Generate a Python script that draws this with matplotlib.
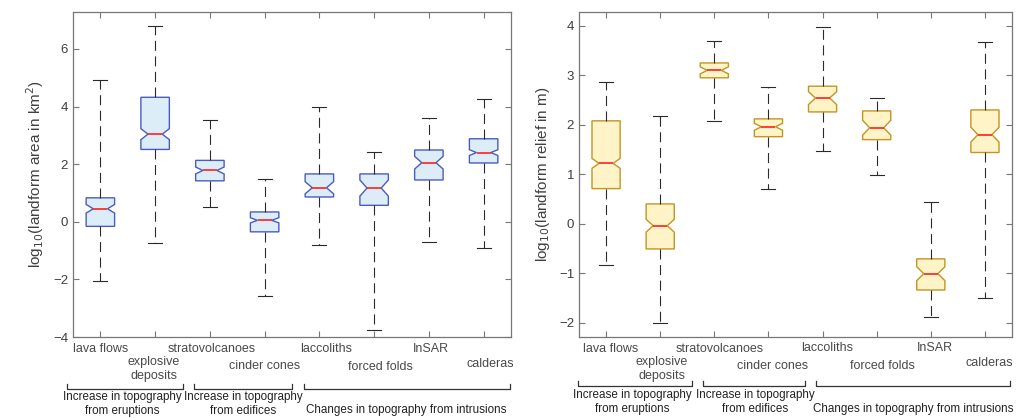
import matplotlib
matplotlib.use("Agg")
import matplotlib.pyplot as plt
from matplotlib.transforms import blended_transform_factory

plt.rcParams['font.family'] = ['Liberation Sans', 'DejaVu Sans']

categories = ["lava flows", "explosive\ndeposits", "stratovolcanoes", "cinder cones",
              "laccoliths", "forced folds", "InSAR", "calderas"]
groups = ["Increase in topography\nfrom eruptions", "Increase in topography\nfrom edifices",
          "Changes in topography from intrusions"]

# log10 landform area (km^2)
area_whislo = [-2.07, -0.75, 0.50, -2.56, -0.80, -3.76, -0.71, -0.91]
area_q1     = [-0.16, 2.51, 1.42, -0.35, 0.86, 0.57, 1.45, 2.04]
area_med    = [0.45, 3.04, 1.78, 0.05, 1.18, 1.17, 2.05, 2.40]
area_q3     = [0.83, 4.32, 2.13, 0.34, 1.66, 1.66, 2.49, 2.88]
area_whishi = [4.93, 6.80, 3.53, 1.49, 4.00, 2.41, 3.59, 4.27]
area_notch  = [0.15, 0.19, 0.12, 0.09, 0.21, 0.28, 0.22, 0.10]

# log10 landform relief (m)
rel_whislo = [-0.83, -2.00, 2.08, 0.70, 1.47, 0.99, -1.89, -1.50]
rel_q1     = [0.71, -0.51, 2.95, 1.76, 2.26, 1.70, -1.34, 1.44]
rel_med    = [1.22, -0.04, 3.10, 1.96, 2.54, 1.94, -1.01, 1.80]
rel_q3     = [2.08, 0.40, 3.25, 2.12, 2.78, 2.28, -0.71, 2.30]
rel_whishi = [2.86, 2.17, 3.70, 2.77, 3.98, 2.54, 0.44, 3.67]
rel_notch  = [0.10, 0.13, 0.07, 0.07, 0.13, 0.15, 0.14, 0.15]

W, H = 1021, 418
fig = plt.figure(figsize=(W / 100, H / 100), dpi=100)

def px_axes(x0, x1, y0, y1):
    return fig.add_axes([x0 / W, 1 - y1 / H, (x1 - x0) / W, (y1 - y0) / H])

axL = px_axes(73, 511, 12, 337)
axR = px_axes(579, 1012, 12, 337)

spine_col = '#777777'
tick_col = '#3f3f3f'


def draw(ax, lo, q1, med, q3, hi, notch, fill, edge, ylim, yticks, ylabel,
         label_y, label_dx, bracket_y, group_spans, group_text_y):
    stats = []
    for i in range(len(categories)):
        stats.append(dict(whislo=lo[i], q1=q1[i], med=med[i], q3=q3[i], whishi=hi[i],
                          cilo=med[i] - notch[i], cihi=med[i] + notch[i], fliers=[]))
    pos = list(range(1, len(categories) + 1))
    ax.bxp(stats, positions=pos, widths=0.52, shownotches=True, patch_artist=True,
           showfliers=False,
           boxprops=dict(facecolor=fill, edgecolor=edge, linewidth=1.0),
           medianprops=dict(color='#ff2020', linewidth=1.2),
           whiskerprops=dict(color='#2a2a2a', linewidth=0.8, linestyle=(0, (9, 5))),
           capprops=dict(color='#2a2a2a', linewidth=0.8),
           capwidths=0.26)
    ax.set_xlim(0.5, 8.5)
    ax.set_ylim(*ylim)
    ax.set_yticks(yticks)
    ax.set_xticks(pos)
    ax.set_xticklabels([])
    ax.tick_params(direction='in', top=True, right=True, length=4, width=0.8,
                   colors=spine_col, labelcolor=tick_col, labelsize=9.5)
    for s in ax.spines.values():
        s.set_color(spine_col)
        s.set_linewidth(0.9)
    ax.set_ylabel(ylabel, fontsize=11, color=tick_col, labelpad=5)

    # category labels (staggered)
    tr = blended_transform_factory(ax.transData, fig.transFigure)
    for i, c in enumerate(categories):
        ax.text(pos[i] + label_dx[i], 1 - label_y[i] / H, c, transform=tr, ha='center',
                va='center', fontsize=9, color='#4a4a4a', clip_on=False, linespacing=1.3)
    # group brackets
    trf = fig.transFigure
    for (x0, x1), (cx, t), g in zip(group_spans, group_text_y, groups):
        yb = 1 - bracket_y / H
        yt = 1 - (bracket_y - 5) / H
        fig.add_artist(plt.Line2D([x0 / W, x0 / W, x1 / W, x1 / W], [yt, yb, yb, yt],
                                  color='#333333', linewidth=0.9, transform=trf))
        fig.text(cx / W, 1 - t / H, g, ha='center', va='center', fontsize=8.4,
                 color='#222222', linespacing=1.3)


draw(axL, area_whislo, area_q1, area_med, area_q3, area_whishi, area_notch,
     fill='#dcedf8', edge='#4a5cbf', ylim=(-4, 7.28), yticks=[-4, -2, 0, 2, 4, 6],
     ylabel='log$_{10}$(landform area in km$^2$)',
     label_y=[349, 369, 349, 366, 349, 367, 349, 364],
     label_dx=[0, -0.02, 0.03, 0, 0.12, 0.12, 0.04, 0.12],
     bracket_y=389,
     group_spans=[(67, 183), (194, 292), (304, 510)],
     group_text_y=[(122, 404), (243, 404), (406, 410)])

draw(axR, rel_whislo, rel_q1, rel_med, rel_q3, rel_whishi, rel_notch,
     fill='#fff4c8', edge='#c39420', ylim=(-2.29, 4.28), yticks=[-2, -1, 0, 1, 2, 3, 4],
     ylabel='log$_{10}$(landform relief in m)',
     label_y=[349, 369, 349, 366, 348, 366, 348, 363],
     label_dx=[0.08, 0.03, 0.1, 0.07, 0.09, 0.11, 0.08, 0.09],
     bracket_y=386,
     group_spans=[(578, 692), (703, 805), (816, 1010)],
     group_text_y=[(632, 402), (755, 402), (913, 409)])

fig.savefig('out.png', dpi=100)
